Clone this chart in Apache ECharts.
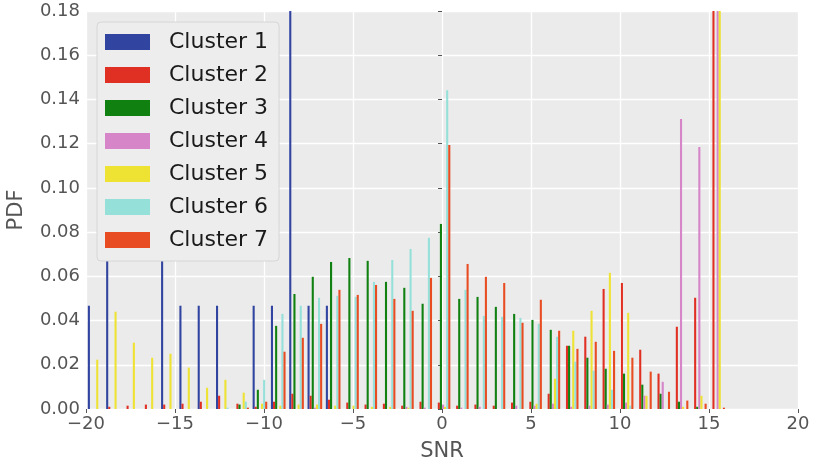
<!DOCTYPE html>
<html>
<head>
<meta charset="utf-8">
<script src="https://cdn.jsdelivr.net/npm/echarts@6/dist/echarts.min.js"></script>
<style>
  html, body { margin: 0; padding: 0; background: #fff; }
  #chart { width: 815px; height: 464px; }
</style>
</head>
<body>
<div id="chart"></div>
<script>
// histogram bins: 35 bins spanning -20 .. 16
const binStart = -20
const binEnd = 16
const binCount = 35

const clusterNames = ['Cluster 1', 'Cluster 2', 'Cluster 3', 'Cluster 4', 'Cluster 5', 'Cluster 6', 'Cluster 7']
const clusterColors = ['#3044A0', '#E03024', '#108010', '#D585C8', '#EEE232', '#96E0DA', '#E84C22']

// PDF per bin, one array per cluster
const cluster1 = [0.0467, 0.093, 0, 0, 0.093, 0.0467, 0.0467, 0.0467, 0, 0.0467, 0.0467, 0.42, 0.0467, 0.0467, 0, 0, 0, 0, 0, 0, 0, 0, 0, 0, 0, 0, 0, 0, 0, 0, 0, 0, 0, 0, 0]
const cluster2 = [0, 0.001, 0.0015, 0.002, 0.002, 0.0024, 0.0033, 0.006, 0.0024, 0.001, 0.0033, 0.0069, 0.006, 0.0042, 0.0029, 0.002, 0.0024, 0.0015, 0.0033, 0.0029, 0.0015, 0.002, 0.0015, 0.0029, 0.0033, 0.0069, 0.0286, 0.0327, 0.0543, 0.057, 0.0268, 0.016, 0.0372, 0.0503, 0.25]
const cluster3 = [0, 0, 0, 0, 0, 0, 0, 0, 0.002, 0.0087, 0.0376, 0.052, 0.0598, 0.0665, 0.0683, 0.067, 0.0575, 0.0548, 0.0476, 0.0837, 0.0498, 0.0507, 0.0462, 0.043, 0.0403, 0.0358, 0.0286, 0.0232, 0.0182, 0.016, 0.011, 0.0069, 0.0033, 0.001, 0]
const cluster4 = [0, 0, 0, 0, 0, 0, 0, 0, 0, 0, 0, 0, 0.0006, 0, 0, 0, 0, 0.001, 0.0006, 0.002, 0.0006, 0.001, 0, 0.0015, 0.0015, 0.0024, 0.001, 0.0015, 0.002, 0.0029, 0.006, 0.0123, 0.1311, 0.1185, 0.25]
const cluster5 = [0.0223, 0.044, 0.030, 0.0232, 0.025, 0.0187, 0.0096, 0.0132, 0.0074, 0.0024, 0.0015, 0.002, 0.002, 0.0015, 0.0015, 0.001, 0.001, 0.0006, 0, 0.001, 0, 0, 0, 0, 0.0024, 0.0137, 0.0354, 0.0444, 0.0616, 0.0435, 0.006, 0, 0.001, 0.006, 0.25]
const cluster6 = [0, 0, 0, 0, 0, 0, 0, 0.0006, 0.0033, 0.0132, 0.043, 0.0467, 0.0503, 0.0512, 0.0507, 0.0575, 0.0674, 0.0724, 0.0774, 0.1442, 0.0539, 0.0421, 0.0417, 0.0412, 0.0385, 0.0327, 0.0214, 0.0173, 0.0087, 0.0015, 0, 0, 0, 0, 0]
const cluster7 = [0, 0, 0, 0, 0, 0, 0, 0, 0.0006, 0.0033, 0.0259, 0.0322, 0.0385, 0.0539, 0.0516, 0.0561, 0.0498, 0.0444, 0.0593, 0.1194, 0.0656, 0.0598, 0.057, 0.039, 0.0494, 0.0354, 0.0272, 0.0304, 0.0263, 0.0232, 0.0169, 0.0078, 0.0038, 0.0024, 0.0006]

const clusters = [cluster1, cluster2, cluster3, cluster4, cluster5, cluster6, cluster7]

const xTicks = [-20, -15, -10, -5, 0, 5, 10, 15, 20]
const yMax = 0.18

const binWidth = (binEnd - binStart) / binCount
const font = 'DejaVu Sans'
const tickColor = '#555'

const chart = echarts.init(document.getElementById('chart'))

// matplotlib-style grouped histogram: 80% of each bin shared by the clusters
const renderBar = (params, api) => {
  const x0 = api.value(0)
  const x1 = api.value(1)
  const v = Math.min(api.value(2), yMax)
  if (!v) return null
  const w = (x1 - x0) * 0.8 / clusters.length
  const left = x0 + (x1 - x0) * 0.1 + params.seriesIndex * w
  const p0 = api.coord([left, v])
  const p1 = api.coord([left + w, 0])
  return {
    type: 'rect',
    shape: { x: p0[0], y: p0[1], width: p1[0] - p0[0], height: p1[1] - p0[1] },
    style: { fill: api.visual('color') }
  }
}

const series = clusters.map((vals, j) => ({
  name: clusterNames[j],
  type: 'custom',
  renderItem: renderBar,
  itemStyle: { color: clusterColors[j] },
  encode: { x: [0, 1], y: 2 },
  data: vals.map((v, k) => [binStart + k * binWidth, binStart + (k + 1) * binWidth, v])
}))

const option = {
  animation: false,
  textStyle: { fontFamily: font },
  grid: {
    left: 86, right: 17, top: 11, bottom: 55,
    outerBoundsMode: 'none',
    containLabel: false,
    show: true, backgroundColor: '#EBEBEB', borderWidth: 0
  },
  legend: {
    orient: 'vertical',
    left: 97,
    top: 22,
    itemWidth: 45,
    itemHeight: 16,
    itemGap: 11,
    padding: [9, 11, 10, 8],
    icon: 'rect',
    backgroundColor: '#EDEDED',
    borderColor: '#D6D6D6',
    borderWidth: 1,
    borderRadius: 4,
    textStyle: { fontFamily: font, fontSize: 22, color: '#1a1a1a', lineHeight: 22, padding: [0, 0, 0, 14] },
    data: clusterNames
  },
  xAxis: {
    type: 'value',
    min: xTicks[0],
    max: xTicks[xTicks.length - 1],
    interval: 5,
    name: 'SNR',
    nameLocation: 'middle',
    nameGap: 32,
    nameTextStyle: { fontFamily: font, fontSize: 21, color: tickColor },
    axisLine: { show: false },
    axisTick: { show: true, length: 4, lineStyle: { color: tickColor } },
    axisLabel: {
      fontFamily: font, fontSize: 18, color: tickColor, margin: 6,
      formatter: v => String(v).replace('-', '\u2212')
    },
    splitLine: { show: true, lineStyle: { color: '#fff', width: 1.3 } }
  },
  yAxis: {
    type: 'value',
    min: 0,
    max: yMax,
    interval: 0.02,
    name: 'PDF',
    nameLocation: 'middle',
    nameGap: 59,
    nameTextStyle: { fontFamily: font, fontSize: 21, color: tickColor },
    axisLine: { show: false },
    axisTick: { show: true, length: 4, lineStyle: { color: tickColor } },
    axisLabel: {
      fontFamily: font, fontSize: 18, color: tickColor, margin: 6,
      formatter: v => v.toFixed(2)
    },
    splitLine: { show: true, lineStyle: { color: '#fff', width: 1.3 } }
  },
  series
}

chart.setOption(option)
</script>
</body>
</html>
